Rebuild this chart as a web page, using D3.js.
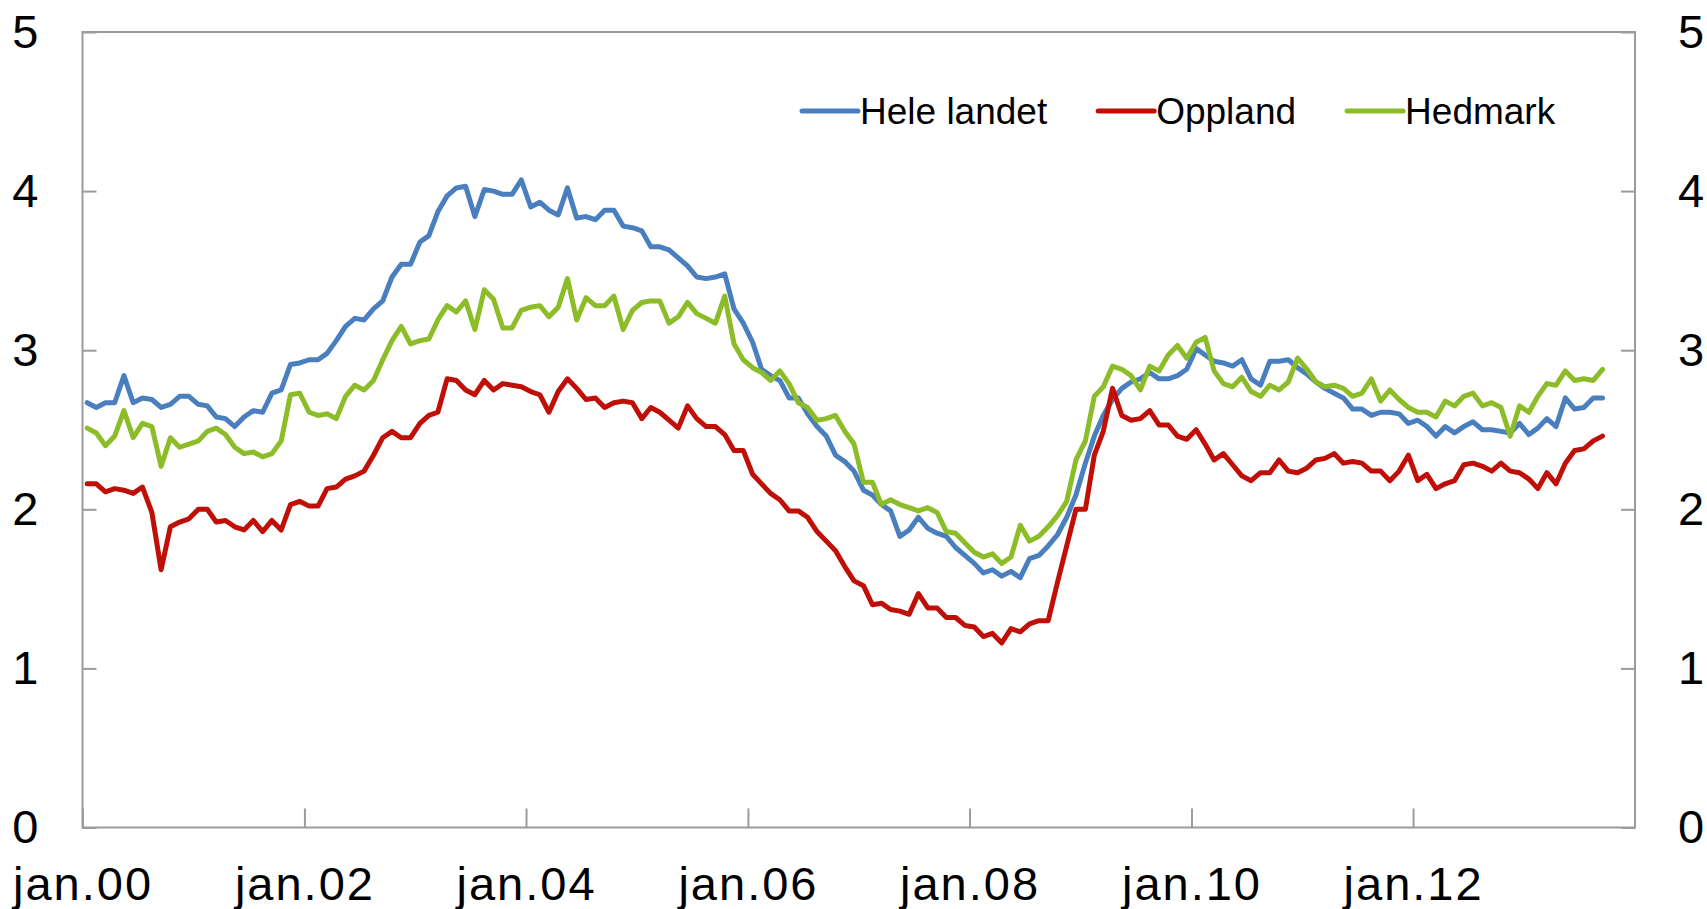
<!DOCTYPE html>
<html>
<head>
<meta charset="utf-8">
<script src="https://cdn.jsdelivr.net/npm/d3@7"></script>
<style>
  body { margin: 0; background: #fff; }
  svg { display: block; font-family: "Liberation Sans", Arial, sans-serif; }
</style>
</head>
<body>
<div id="chart"></div>
<script>
// monthly values, jan.00 - sep.13
var heleLandet = [2.67, 2.64, 2.67, 2.67, 2.84, 2.67, 2.70, 2.69, 2.64, 2.66, 2.71, 2.71, 2.66, 2.65, 2.58, 2.57, 2.52, 2.58, 2.62, 2.61, 2.73, 2.75, 2.91, 2.92, 2.94,
  2.94, 2.98, 3.06, 3.15, 3.20, 3.19, 3.26, 3.31, 3.46, 3.54, 3.54, 3.68, 3.72, 3.87, 3.97, 4.02, 4.03, 3.84, 4.01, 4.00, 3.98, 3.98, 4.07, 3.90,
  3.93, 3.88, 3.85, 4.02, 3.83, 3.84, 3.82, 3.88, 3.88, 3.78, 3.77, 3.75, 3.65, 3.65, 3.63, 3.58, 3.53, 3.46, 3.45, 3.46, 3.48, 3.26, 3.17, 3.05,
  2.88, 2.84, 2.81, 2.70, 2.70, 2.60, 2.52, 2.46, 2.34, 2.30, 2.24, 2.12, 2.09, 2.03, 1.99, 1.83, 1.87, 1.95, 1.88, 1.85, 1.83, 1.76, 1.71,
  1.66, 1.60, 1.62, 1.58, 1.61, 1.57, 1.69, 1.71, 1.77, 1.84, 1.95, 2.09, 2.29, 2.46, 2.59, 2.69, 2.76, 2.80, 2.82, 2.86, 2.82, 2.82, 2.84, 2.88,
  3.01, 2.97, 2.93, 2.92, 2.90, 2.94, 2.82, 2.78, 2.93, 2.93, 2.94, 2.89, 2.85, 2.80, 2.76, 2.73, 2.70, 2.63, 2.63, 2.59, 2.61, 2.61, 2.60, 2.54,
  2.56, 2.52, 2.46, 2.52, 2.48, 2.52, 2.55, 2.50, 2.50, 2.49, 2.48, 2.54, 2.47, 2.51, 2.57, 2.52, 2.70, 2.63, 2.64, 2.70, 2.70];

var oppland = [2.16, 2.16, 2.11, 2.13, 2.12, 2.10, 2.14, 1.98, 1.62, 1.89, 1.92, 1.94, 2.00, 2.00, 1.92, 1.93, 1.89, 1.87, 1.93, 1.86, 1.93, 1.87, 2.03, 2.05, 2.02,
  2.02, 2.13, 2.14, 2.19, 2.21, 2.24, 2.34, 2.45, 2.49, 2.45, 2.45, 2.54, 2.59, 2.61, 2.82, 2.81, 2.75, 2.72, 2.81, 2.75, 2.79, 2.78, 2.77, 2.74,
  2.72, 2.61, 2.74, 2.82, 2.76, 2.69, 2.70, 2.64, 2.67, 2.68, 2.67, 2.57, 2.64, 2.61, 2.56, 2.51, 2.65, 2.57, 2.52, 2.52, 2.47, 2.37, 2.37, 2.22,
  2.16, 2.10, 2.06, 1.99, 1.99, 1.95, 1.86, 1.80, 1.74, 1.64, 1.55, 1.52, 1.40, 1.41, 1.37, 1.36, 1.34, 1.47, 1.38, 1.38, 1.32, 1.32, 1.27,
  1.26, 1.20, 1.22, 1.16, 1.25, 1.23, 1.28, 1.30, 1.30, 1.54, 1.77, 2.00, 2.00, 2.34, 2.49, 2.76, 2.59, 2.56, 2.57, 2.62, 2.53, 2.53, 2.46, 2.44,
  2.50, 2.41, 2.31, 2.35, 2.28, 2.21, 2.18, 2.23, 2.23, 2.31, 2.24, 2.23, 2.26, 2.31, 2.32, 2.35, 2.29, 2.30, 2.29, 2.24, 2.24, 2.18, 2.24, 2.34,
  2.18, 2.22, 2.13, 2.16, 2.18, 2.28, 2.29, 2.27, 2.24, 2.29, 2.24, 2.23, 2.19, 2.13, 2.23, 2.16, 2.29, 2.37, 2.38, 2.43, 2.46];

var hedmark = [2.51, 2.48, 2.40, 2.46, 2.62, 2.45, 2.54, 2.52, 2.27, 2.45, 2.39, 2.41, 2.43, 2.49, 2.51, 2.47, 2.39, 2.35, 2.36, 2.33, 2.35, 2.43, 2.72, 2.73, 2.61,
  2.59, 2.60, 2.57, 2.71, 2.78, 2.75, 2.81, 2.94, 3.06, 3.15, 3.04, 3.06, 3.07, 3.19, 3.28, 3.24, 3.31, 3.13, 3.38, 3.32, 3.14, 3.14, 3.25, 3.27,
  3.28, 3.21, 3.27, 3.45, 3.19, 3.33, 3.28, 3.28, 3.34, 3.13, 3.25, 3.30, 3.31, 3.31, 3.17, 3.21, 3.30, 3.23, 3.20, 3.17, 3.34, 3.04, 2.94, 2.89,
  2.86, 2.81, 2.87, 2.79, 2.67, 2.64, 2.56, 2.57, 2.59, 2.49, 2.41, 2.17, 2.17, 2.03, 2.06, 2.03, 2.01, 1.99, 2.01, 1.98, 1.86, 1.85, 1.79,
  1.73, 1.70, 1.72, 1.66, 1.70, 1.90, 1.80, 1.83, 1.89, 1.96, 2.05, 2.31, 2.43, 2.71, 2.77, 2.90, 2.88, 2.84, 2.75, 2.90, 2.87, 2.97, 3.03, 2.95,
  3.05, 3.08, 2.87, 2.79, 2.77, 2.83, 2.74, 2.71, 2.78, 2.75, 2.80, 2.95, 2.88, 2.80, 2.77, 2.78, 2.76, 2.71, 2.73, 2.82, 2.68, 2.75, 2.69, 2.64,
  2.61, 2.61, 2.58, 2.68, 2.65, 2.71, 2.73, 2.65, 2.67, 2.64, 2.46, 2.65, 2.61, 2.71, 2.79, 2.78, 2.87, 2.81, 2.82, 2.81, 2.88];

var seriesNames = ["Hele landet", "Oppland", "Hedmark"];
var xTickLabels = ["jan.00", "jan.02", "jan.04", "jan.06", "jan.08", "jan.10", "jan.12"];
var yTicks = [0, 1, 2, 3, 4, 5];

var colors = ["#4a7fbf", "#bf0f07", "#8cbc27"];
var width = 1707, height = 909;
var margin = { left: 82.5, right: 72, top: 32, bottom: 81.5 };

var start = new Date(2000, 0, 1);
var end = new Date(2014, 0, 1);

var svg = d3.select("#chart").append("svg")
  .attr("width", width)
  .attr("height", height);

var x = d3.scaleTime()
  .domain([start, end])
  .range([margin.left, width - margin.right]);

var y = d3.scaleLinear()
  .domain([0, 5])
  .range([height - margin.bottom, margin.top]);

// each point sits in the middle of its month
function monthMid(i) {
  var a = d3.timeMonth.offset(start, i);
  var b = d3.timeMonth.offset(start, i + 1);
  return new Date((+a + +b) / 2);
}

var series = [heleLandet, oppland, hedmark].map(function(vals, k) {
  return { name: seriesNames[k], color: colors[k],
           values: vals.map(function(v, i) { return { date: monthMid(i), value: v }; }) };
});

var axisColor = "#9b9b9b";

// left / right / bottom axes with inward ticks
var yLeft = svg.append("g")
  .attr("transform", "translate(" + margin.left + ",0)")
  .call(d3.axisLeft(y).tickValues(yTicks).tickSize(-14).tickPadding(44).tickFormat(d3.format("d")));
var yRight = svg.append("g")
  .attr("transform", "translate(" + (width - margin.right) + ",0)")
  .call(d3.axisRight(y).tickValues(yTicks).tickSize(-14).tickPadding(43).tickFormat(d3.format("d")));

var xTickDates = xTickLabels.map(function(d, i) { return d3.timeYear.offset(start, i * 2); });
var xAxis = svg.append("g")
  .attr("transform", "translate(0," + (height - margin.bottom) + ")")
  .call(d3.axisBottom(x).tickValues(xTickDates).tickSize(-19).tickPadding(39)
    .tickFormat(function(d, i) { return xTickLabels[i]; }));

[yLeft, yRight, xAxis].forEach(function(g) {
  g.select(".domain").remove();
  g.selectAll(".tick line").attr("stroke", axisColor).attr("stroke-width", 2);
  g.selectAll(".tick text").attr("fill", "#000").attr("font-size", 47)
    .attr("font-family", "Liberation Sans, Arial, sans-serif");
});
xAxis.selectAll(".tick text").attr("letter-spacing", 2);

// frame around plot
svg.append("rect")
  .attr("x", margin.left)
  .attr("y", margin.top)
  .attr("width", width - margin.left - margin.right)
  .attr("height", height - margin.top - margin.bottom)
  .attr("fill", "none")
  .attr("stroke", axisColor)
  .attr("stroke-width", 2);

var line = d3.line()
  .x(function(d) { return x(d.date); })
  .y(function(d) { return y(d.value); });

svg.selectAll(".series")
  .data(series)
  .enter()
  .append("path")
  .attr("class", "series")
  .attr("d", function(d) { return line(d.values); })
  .attr("fill", "none")
  .attr("stroke", function(d) { return d.color; })
  .attr("stroke-width", 5)
  .attr("stroke-linejoin", "round")
  .attr("stroke-linecap", "round");

// legend, laid out left to right
var legend = svg.append("g");
var lx = 802, ly = 111, sample = 56, gap = 51;
series.forEach(function(s) {
  legend.append("line")
    .attr("x1", lx).attr("x2", lx + sample)
    .attr("y1", ly).attr("y2", ly)
    .attr("stroke", s.color)
    .attr("stroke-width", 5)
    .attr("stroke-linecap", "round");
  var t = legend.append("text")
    .attr("x", lx + sample + 2)
    .attr("y", ly)
    .attr("dy", "0.35em")
    .attr("font-size", 37)
    .attr("fill", "#000")
    .text(s.name);
  lx = lx + sample + 2 + t.node().getComputedTextLength() + gap;
});
</script>
</body>
</html>
